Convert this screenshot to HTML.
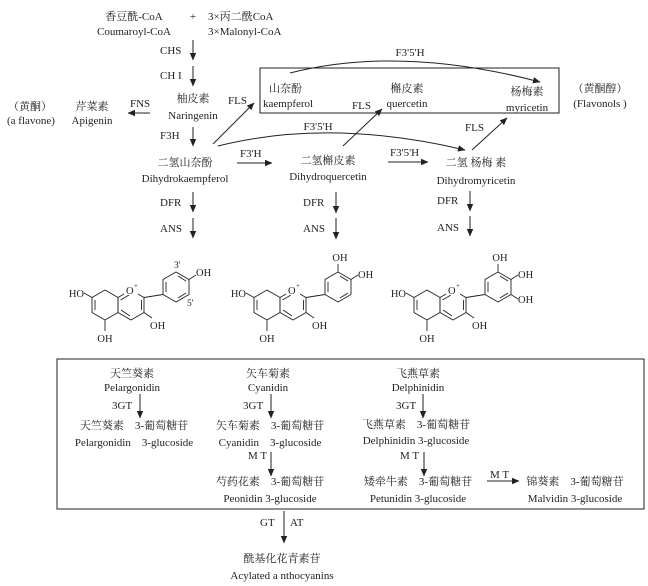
<!DOCTYPE html>
<html><head><meta charset="utf-8"><style>
html,body{margin:0;padding:0;background:#fff;}
svg{display:block;}
text{font-family:"Liberation Serif","Noto Serif CJK SC",serif;font-size:11px;fill:#222;}
.c{text-anchor:middle;}
.s{font-size:10.5px;}
</style></head><body>
<svg width="648" height="586" viewBox="0 0 648 586" xmlns="http://www.w3.org/2000/svg">
<defs><marker id="a" markerWidth="8" markerHeight="8" refX="7" refY="4" orient="auto" markerUnits="userSpaceOnUse"><path d="M0,0.8 L7.5,4 L0,7.2 Z" fill="#222"/></marker></defs>
<g stroke="#222" stroke-width="1" fill="none">
<!-- main column -->
<line x1="193" y1="40" x2="193" y2="60" marker-end="url(#a)"/>
<line x1="193" y1="66" x2="193" y2="86" marker-end="url(#a)"/>
<line x1="150" y1="113" x2="128" y2="113" marker-end="url(#a)"/>
<line x1="193" y1="127" x2="193" y2="146" marker-end="url(#a)"/>
<line x1="237" y1="163" x2="272" y2="163" marker-end="url(#a)"/>
<line x1="388" y1="162" x2="428" y2="162" marker-end="url(#a)"/>
<line x1="193" y1="192" x2="193" y2="212" marker-end="url(#a)"/>
<line x1="193" y1="218" x2="193" y2="238" marker-end="url(#a)"/>
<line x1="336" y1="192" x2="336" y2="213" marker-end="url(#a)"/>
<line x1="336" y1="218" x2="336" y2="239" marker-end="url(#a)"/>
<line x1="470" y1="191" x2="470" y2="211" marker-end="url(#a)"/>
<line x1="470" y1="216" x2="470" y2="236" marker-end="url(#a)"/>
<!-- box -->
<rect x="260" y="68" width="299" height="45"/>
<path d="M290,73 Q400,45 540,82" marker-end="url(#a)"/>
<path d="M218,146 Q330,118 465,150" marker-end="url(#a)"/>
<line x1="213" y1="144" x2="254" y2="103" marker-end="url(#a)"/>
<line x1="343" y1="146" x2="382" y2="109" marker-end="url(#a)"/>
<line x1="472" y1="150" x2="507" y2="118" marker-end="url(#a)"/>
<!-- bottom box -->
<rect x="57" y="359" width="587" height="150"/>
<line x1="140" y1="394" x2="140" y2="418" marker-end="url(#a)"/>
<line x1="271" y1="394" x2="271" y2="418" marker-end="url(#a)"/>
<line x1="423" y1="394" x2="423" y2="418" marker-end="url(#a)"/>
<line x1="271" y1="452" x2="271" y2="476" marker-end="url(#a)"/>
<line x1="424" y1="452" x2="424" y2="476" marker-end="url(#a)"/>
<line x1="487" y1="481" x2="519" y2="481" marker-end="url(#a)"/>
<line x1="284" y1="511" x2="284" y2="543" marker-end="url(#a)"/>
</g>
<!-- structures -->
<g stroke="#222" stroke-width="0.9" fill="none">
<g id="st1">
<polygon points="105,290 118,297.5 118,312.5 105,320 92,312.5 92,297.5"/>
<polygon points="131,290 144,297.5 144,312.5 131,320 118,312.5 118,297.5"/>
<line x1="95" y1="300" x2="95" y2="310"/><line x1="120.5" y1="300" x2="129" y2="295"/><line x1="121" y1="310" x2="130" y2="316"/><line x1="141.5" y1="300" x2="141.5" y2="310"/>
<line x1="144" y1="297.5" x2="163" y2="294.5"/>
<line x1="92" y1="297.5" x2="84" y2="293"/>
<line x1="105" y1="320" x2="105" y2="331"/>
<line x1="144" y1="312.5" x2="152" y2="318"/>
</g>
<polygon points="176,272 189,279.5 189,294.5 176,302 163,294.5 163,279.5"/>
<line x1="178" y1="276" x2="186" y2="281"/><line x1="186" y1="293" x2="178" y2="298"/><line x1="166" y1="282" x2="166" y2="292"/>
<line x1="189" y1="279.5" x2="196" y2="275"/>
<use href="#st1" x="162"/>
<polygon points="338,272 351,279.5 351,294.5 338,302 325,294.5 325,279.5"/>
<line x1="340" y1="276" x2="348" y2="281"/><line x1="348" y1="293" x2="340" y2="298"/><line x1="328" y1="282" x2="328" y2="292"/>
<line x1="338" y1="272" x2="338" y2="264"/><line x1="351" y1="279.5" x2="358" y2="275"/>
<use href="#st1" x="322"/>
<polygon points="498,272 511,279.5 511,294.5 498,302 485,294.5 485,279.5"/>
<line x1="500" y1="276" x2="508" y2="281"/><line x1="508" y1="293" x2="500" y2="298"/><line x1="488" y1="282" x2="488" y2="292"/>
<line x1="498" y1="272" x2="498" y2="264"/><line x1="511" y1="279.5" x2="518" y2="275"/><line x1="511" y1="294.5" x2="518" y2="299"/>
</g>
<g>
<rect x="124" y="284" width="14" height="11" fill="#fff"/><text x="126" y="294" class="s">O</text><text x="134" y="288" style="font-size:7px">+</text>
<text x="84" y="297" class="s" text-anchor="end">HO</text><text x="105" y="342" class="s c">OH</text><text x="150" y="329" class="s">OH</text>
<text x="174" y="268" style="font-size:9.5px">3'</text><text x="196" y="276" class="s">OH</text><text x="187" y="306" style="font-size:9.5px">5'</text>
<rect x="286" y="284" width="14" height="11" fill="#fff"/><text x="288" y="294" class="s">O</text><text x="296" y="288" style="font-size:7px">+</text>
<text x="246" y="297" class="s" text-anchor="end">HO</text><text x="267" y="342" class="s c">OH</text><text x="312" y="329" class="s">OH</text>
<text x="340" y="261" class="s c">OH</text><text x="358" y="278" class="s">OH</text>
<rect x="446" y="284" width="14" height="11" fill="#fff"/><text x="448" y="294" class="s">O</text><text x="456" y="288" style="font-size:7px">+</text>
<text x="406" y="297" class="s" text-anchor="end">HO</text><text x="427" y="342" class="s c">OH</text><text x="472" y="329" class="s">OH</text>
<text x="500" y="261" class="s c">OH</text><text x="518" y="278" class="s">OH</text><text x="518" y="303" class="s">OH</text>
</g>
<!-- top labels -->
<text x="134" y="20" class="c">香豆酰-CoA</text><text x="134" y="35" class="c">Coumaroyl-CoA</text>
<text x="193" y="20" class="c">+</text>
<text x="208" y="20">3×丙二酰CoA</text><text x="208" y="35">3×Malonyl-CoA</text>
<text x="160" y="54">CHS</text><text x="160" y="79">CH I</text>
<text x="193" y="102" class="c">柚皮素</text><text x="193" y="119" class="c">Naringenin</text>
<text x="130" y="107">FNS</text>
<text x="92" y="110" class="c">芹菜素</text><text x="92" y="124" class="c">Apigenin</text>
<text x="30" y="110" class="c">（黄酮）</text><text x="31" y="124" class="c">(a flavone)</text>
<text x="160" y="139">F3H</text>
<text x="185" y="166" class="c">二氢山奈酚</text><text x="185" y="182" class="c">Dihydrokaempferol</text>
<text x="240" y="157">F3'H</text>
<text x="328" y="164" class="c">二氢槲皮素</text><text x="328" y="180" class="c">Dihydroquercetin</text>
<text x="390" y="156">F3'5'H</text>
<text x="476" y="166" class="c">二氢 杨梅 素</text><text x="476" y="184" class="c">Dihydromyricetin</text>
<text x="160" y="206">DFR</text><text x="160" y="232">ANS</text>
<text x="303" y="206">DFR</text><text x="303" y="232">ANS</text>
<text x="437" y="204">DFR</text><text x="437" y="231">ANS</text>
<text x="410" y="56" class="c">F3'5'H</text>
<text x="318" y="130" class="c">F3'5'H</text>
<text x="228" y="104">FLS</text><text x="352" y="109">FLS</text><text x="465" y="131">FLS</text>
<text x="269" y="92">山奈酚</text><text x="263" y="107">kaempferol</text>
<text x="407" y="92" class="c">槲皮素</text><text x="407" y="107" class="c">quercetin</text>
<text x="527" y="95" class="c">杨梅素</text><text x="527" y="111" class="c">myricetin</text>
<text x="600" y="92" class="c">（黄酮醇）</text><text x="600" y="107" class="c">(Flavonols )</text>
<!-- bottom labels -->
<text x="132" y="377" class="c">天竺葵素</text><text x="132" y="391" class="c">Pelargonidin</text>
<text x="112" y="409">3GT</text>
<text x="134" y="429" class="c">天竺葵素　3-葡萄糖苷</text><text x="134" y="446" class="c">Pelargonidin　3-glucoside</text>
<text x="268" y="377" class="c">矢车菊素</text><text x="268" y="391" class="c">Cyanidin</text>
<text x="243" y="409">3GT</text>
<text x="270" y="429" class="c">矢车菊素　3-葡萄糖苷</text><text x="270" y="446" class="c">Cyanidin　3-glucoside</text>
<text x="248" y="459">M T</text>
<text x="270" y="485" class="c">芍药花素　3-葡萄糖苷</text><text x="270" y="502" class="c">Peonidin 3-glucoside</text>
<text x="418" y="377" class="c">飞燕草素</text><text x="418" y="391" class="c">Delphinidin</text>
<text x="396" y="409">3GT</text>
<text x="416" y="428" class="c">飞燕草素　3-葡萄糖苷</text><text x="416" y="444" class="c">Delphinidin 3-glucoside</text>
<text x="400" y="459">M T</text>
<text x="418" y="485" class="c">矮牵牛素　3-葡萄糖苷</text><text x="418" y="502" class="c">Petunidin 3-glucoside</text>
<text x="490" y="478">M T</text>
<text x="575" y="485" class="c">锦葵素　3-葡萄糖苷</text><text x="575" y="502" class="c">Malvidin 3-glucoside</text>
<text x="260" y="526">GT</text><text x="290" y="526">AT</text>
<text x="282" y="562" class="c">酰基化花青素苷</text><text x="282" y="579" class="c">Acylated a nthocyanins</text>
</svg>
</body></html>
